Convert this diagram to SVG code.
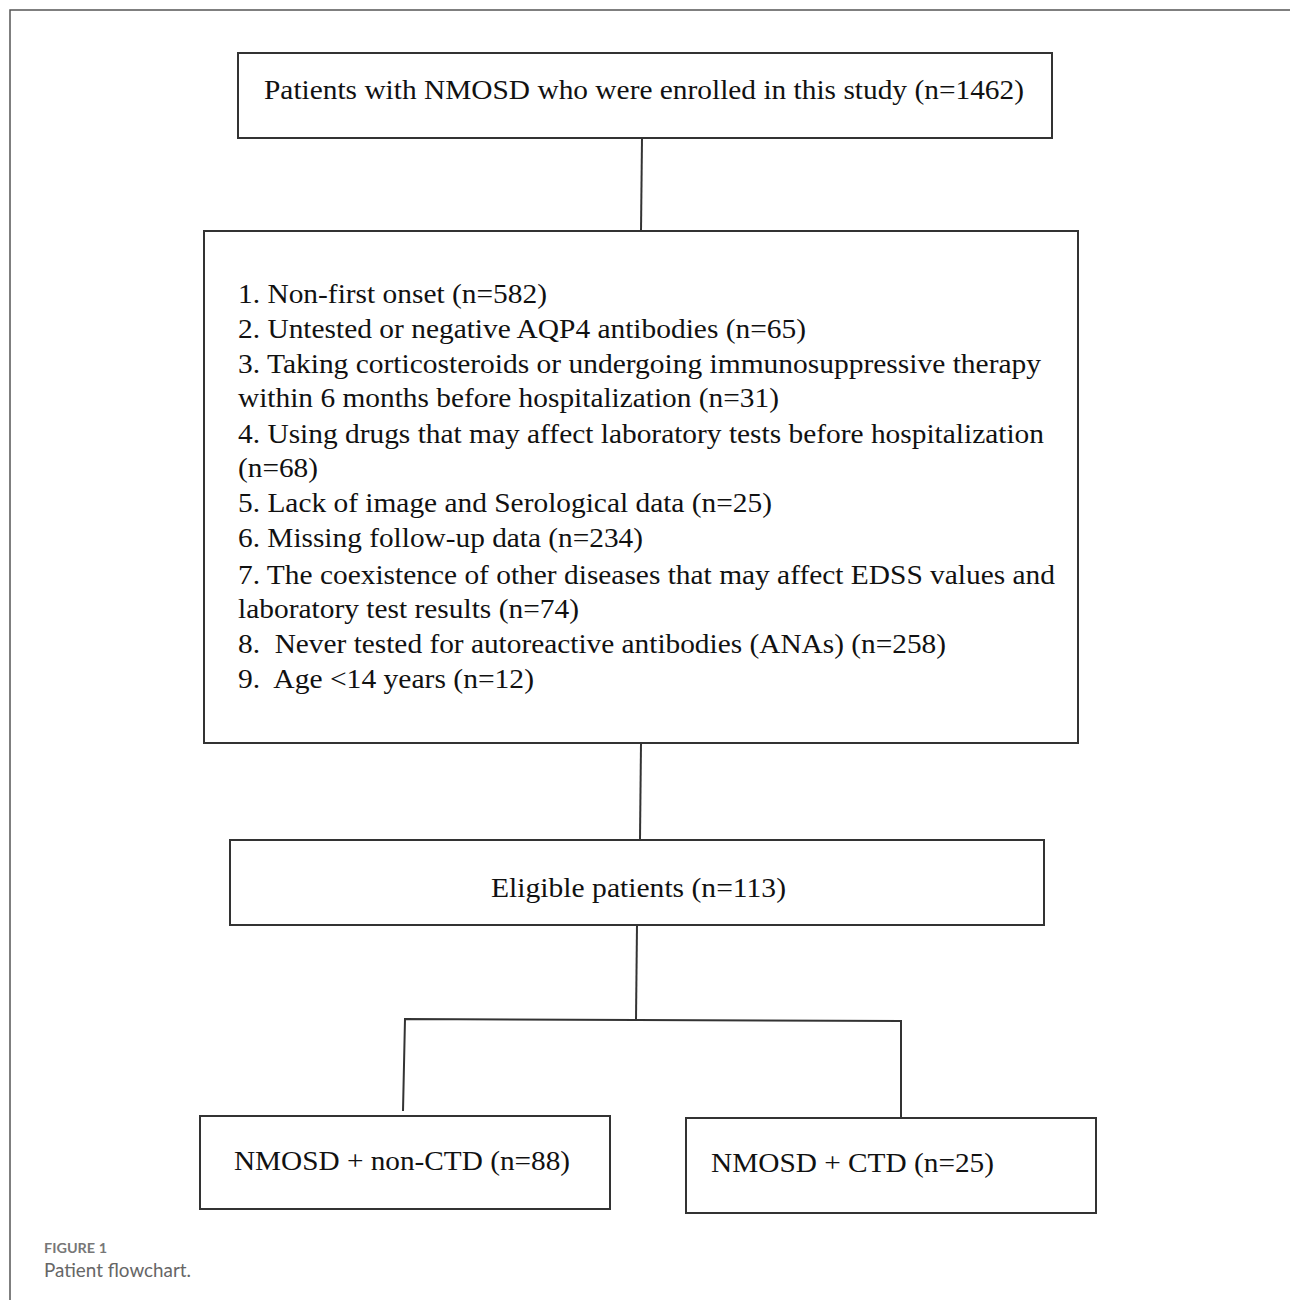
<svg xmlns="http://www.w3.org/2000/svg" width="1290" height="1300" viewBox="0 0 1290 1300">
<style>
.box{fill:#fff;stroke:#333;stroke-width:2}
.t{font-family:"Liberation Serif","Times New Roman",serif;font-size:28px;fill:#111}
.c{stroke:#333;stroke-width:2;fill:none}
.frame{stroke:#555;stroke-width:1.5;fill:none}
.cap1{font-family:Lato,"Open Sans","Liberation Sans",sans-serif;font-size:14px;font-weight:bold;fill:#777}
.cap2{font-family:Lato,"Open Sans","Liberation Sans",sans-serif;font-size:18.5px;fill:#666}
</style>
<rect width="1290" height="1300" fill="#fff"/>
<path class="frame" d="M10,1300 V10 H1290"/>
<g id="connectors">
<line class="c" x1="642" y1="138" x2="641" y2="231"/>
<line class="c" x1="641" y1="743" x2="640" y2="840"/>
<line class="c" x1="637" y1="925" x2="636" y2="1020"/>
<polyline class="c" points="403,1111 405,1019 901,1021 901,1117"/>
</g>
<g id="n1">
<rect class="box" x="238" y="53" width="814" height="85"/>
<text class="t" x="264" y="99" textLength="760" lengthAdjust="spacingAndGlyphs">Patients with NMOSD who were enrolled in this study (n=1462)</text>
</g>
<g id="n2">
<rect class="box" x="204" y="231" width="874" height="512"/>
<text class="t" x="238" y="303" textLength="309" lengthAdjust="spacingAndGlyphs">1. Non-first onset (n=582)</text>
<text class="t" x="238" y="338" textLength="568" lengthAdjust="spacingAndGlyphs">2. Untested or negative AQP4 antibodies (n=65)</text>
<text class="t" x="238" y="373" textLength="803" lengthAdjust="spacingAndGlyphs">3. Taking corticosteroids or undergoing immunosuppressive therapy</text>
<text class="t" x="238" y="407" textLength="541" lengthAdjust="spacingAndGlyphs">within 6 months before hospitalization (n=31)</text>
<text class="t" x="238" y="443" textLength="806" lengthAdjust="spacingAndGlyphs">4. Using drugs that may affect laboratory tests before hospitalization</text>
<text class="t" x="238" y="477" textLength="80" lengthAdjust="spacingAndGlyphs">(n=68)</text>
<text class="t" x="238" y="512" textLength="534" lengthAdjust="spacingAndGlyphs">5. Lack of image and Serological data (n=25)</text>
<text class="t" x="238" y="547" textLength="405" lengthAdjust="spacingAndGlyphs">6. Missing follow-up data (n=234)</text>
<text class="t" x="238" y="584" textLength="817" lengthAdjust="spacingAndGlyphs">7. The coexistence of other diseases that may affect EDSS values and</text>
<text class="t" x="238" y="618" textLength="341" lengthAdjust="spacingAndGlyphs">laboratory test results (n=74)</text>
<text class="t" x="238" y="653" textLength="708" lengthAdjust="spacingAndGlyphs" xml:space="preserve">8.  Never tested for autoreactive antibodies (ANAs) (n=258)</text>
<text class="t" x="238" y="688" textLength="296" lengthAdjust="spacingAndGlyphs" xml:space="preserve">9.  Age &lt;14 years (n=12)</text>
</g>
<g id="n3">
<rect class="box" x="230" y="840" width="814" height="85"/>
<text class="t" x="491" y="897" textLength="295" lengthAdjust="spacingAndGlyphs">Eligible patients (n=113)</text>
</g>
<g id="n4">
<rect class="box" x="200" y="1116" width="410" height="93"/>
<text class="t" x="234" y="1170" textLength="336" lengthAdjust="spacingAndGlyphs">NMOSD + non-CTD (n=88)</text>
</g>
<g id="n5">
<rect class="box" x="686" y="1118" width="410" height="95"/>
<text class="t" x="711" y="1172" textLength="283" lengthAdjust="spacingAndGlyphs">NMOSD + CTD (n=25)</text>
</g>
<text class="cap1" x="44" y="1253" textLength="63" lengthAdjust="spacingAndGlyphs">FIGURE 1</text>
<text class="cap2" x="44" y="1277" textLength="147" lengthAdjust="spacingAndGlyphs">Patient flowchart.</text>
</svg>
